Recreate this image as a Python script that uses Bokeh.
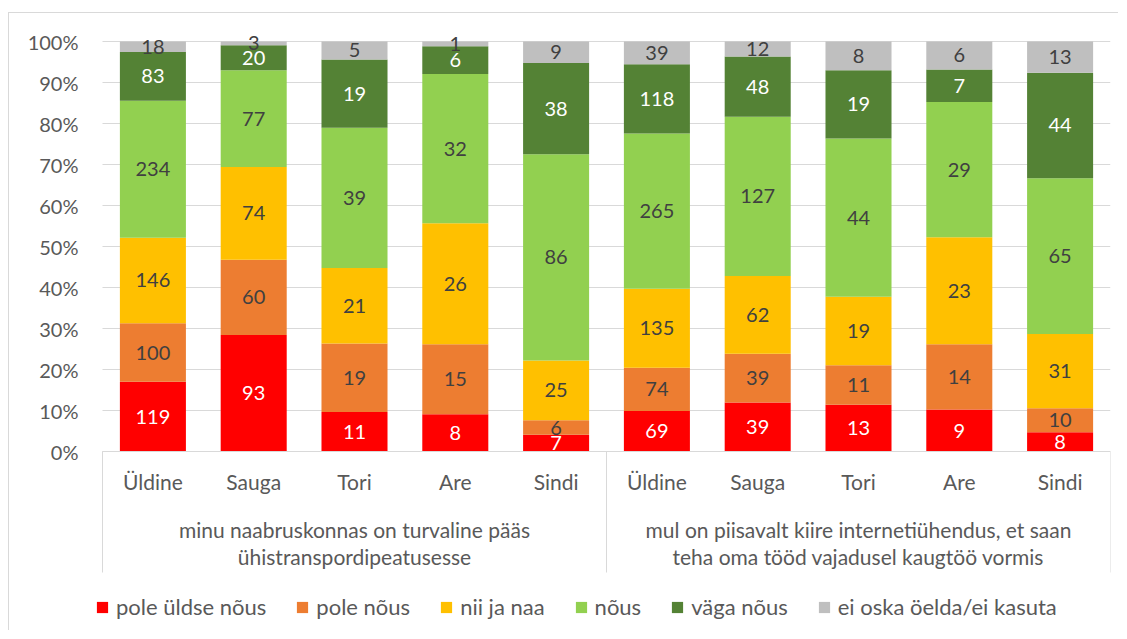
from bokeh.plotting import figure
from bokeh.models import (ColumnDataSource, Range1d, FixedTicker, Legend,
                          LegendItem, NumeralTickFormatter)
from bokeh.core.properties import value
from bokeh.embed import file_html
from bokeh.resources import INLINE

categories = ["Üldine", "Sauga", "Tori", "Are", "Sindi",
              "Üldine", "Sauga", "Tori", "Are", "Sindi"]
groups = ["minu naabruskonnas on turvaline pääs\nühistranspordipeatusesse",
          "mul on piisavalt kiire internetiühendus, et saan\nteha oma tööd vajadusel kaugtöö vormis"]
series = ["pole üldse nõus", "pole nõus", "nii ja naa", "nõus", "väga nõus",
          "ei oska öelda/ei kasuta"]
colors = ["#FF0000", "#ED7D31", "#FFC000", "#92D050", "#548235", "#BFBFBF"]
label_colors = ["#FFFFFF", "#404040", "#404040", "#404040", "#FFFFFF", "#404040"]

pole_uldse_nous = [119, 93, 11, 8, 7, 69, 39, 13, 9, 8]
pole_nous = [100, 60, 19, 15, 6, 74, 39, 11, 14, 10]
nii_ja_naa = [146, 74, 21, 26, 25, 135, 62, 19, 23, 31]
nous = [234, 77, 39, 32, 86, 265, 127, 44, 29, 65]
vaga_nous = [83, 20, 19, 6, 38, 118, 48, 19, 7, 44]
ei_oska = [18, 3, 5, 1, 9, 39, 12, 8, 6, 13]

values = [pole_uldse_nous, pole_nous, nii_ja_naa, nous, vaga_nous, ei_oska]
y_ticks = [i / 10 for i in range(11)]

FONT = "Lato"
TXT = "#595959"
GRID = "#D9D9D9"

n = len(categories)
xs = [i + 0.5 for i in range(n)]
totals = [sum(v[i] for v in values) for i in range(n)]

# layout in pixels -> data units
PX_X = 100.8   # pixels per category
PX_Y = 410.0   # pixels per 100%

p = figure(width=1110, height=618, output_backend="svg", toolbar_location=None,
           x_range=Range1d(-12 / PX_X, n), y_range=Range1d(-179 / PX_Y, 1 + 8 / PX_Y),
           x_axis_location=None, min_border_left=81, min_border_right=9,
           min_border_top=20, min_border_bottom=1)
p.styles = {"border-left": "1px solid #D9D9D9", "border-top": "1px solid #D9D9D9",
            "margin-top": "12px", "margin-left": "8px"}
p.outline_line_color = None
p.background_fill_color = "white"
p.border_fill_color = "white"
p.xgrid.visible = False
p.ygrid.visible = False

ya = p.yaxis[0]
ya.ticker = FixedTicker(ticks=y_ticks)
ya.formatter = NumeralTickFormatter(format="0%")
ya.axis_line_color = None
ya.major_tick_line_color = None
ya.minor_tick_line_color = None
ya.major_label_text_font = FONT
ya.major_label_text_font_size = "20px"
ya.major_label_text_color = TXT
ya.major_label_standoff = 6

# horizontal gridlines across the bar area
p.segment(x0=[0] * len(y_ticks), x1=[n] * len(y_ticks), y0=y_ticks, y1=y_ticks,
          line_color=GRID, line_width=1)

legend_items = []
bottom = [0.0] * n
lab_x, lab_y, lab_t, lab_c = [], [], [], []
for s, vals in enumerate(values):
    frac = [vals[i] / totals[i] for i in range(n)]
    top = [bottom[i] + frac[i] for i in range(n)]
    src = ColumnDataSource(dict(x=xs, bottom=list(bottom), top=top))
    r = p.vbar(x="x", bottom="bottom", top="top", width=0.655, source=src,
               fill_color=colors[s], line_color=None)
    legend_items.append(LegendItem(label=series[s], renderers=[r]))
    for i in range(n):
        lab_x.append(xs[i])
        lab_y.append((bottom[i] + top[i]) / 2)
        lab_t.append(str(vals[i]))
        lab_c.append(label_colors[s])
    bottom = top

lsrc = ColumnDataSource(dict(x=lab_x, y=lab_y, t=lab_t, c=lab_c))
p.text(x="x", y="y", text="t", source=lsrc, text_color="c",
       text_align="center", text_baseline="middle",
       text_font=value(FONT), text_font_size="20px")

# category axis: base line, group separators, category and group labels
p.segment(x0=[0], x1=[n], y0=[0], y1=[0], line_color=GRID, line_width=1)
sep_x = [0, n / 2, n]
p.segment(x0=sep_x, x1=sep_x, y0=[0] * 3, y1=[-121 / PX_Y] * 3,
          line_color=GRID, line_width=1)
p.text(x=xs, y=[-30 / PX_Y] * n, text=categories, text_color=TXT,
       text_align="center", text_baseline="middle",
       text_font=value(FONT), text_font_size="21px")
gx = [n / 4, 3 * n / 4]
p.text(x=gx, y=[-91.5 / PX_Y] * 2, text=groups, text_color=TXT,
       text_align="center", text_baseline="middle", text_line_height=1.08,
       text_font=value(FONT), text_font_size="21px")

legend = Legend(items=legend_items, orientation="horizontal", location=(5, 10),
                glyph_width=14, glyph_height=14, label_standoff=7, spacing=29,
                label_text_font=FONT, label_text_font_size="22px",
                label_text_color=TXT, border_line_color=None,
                background_fill_alpha=0, padding=0, margin=0)
p.add_layout(legend)

open("out.html", "w").write(file_html(p, INLINE))
